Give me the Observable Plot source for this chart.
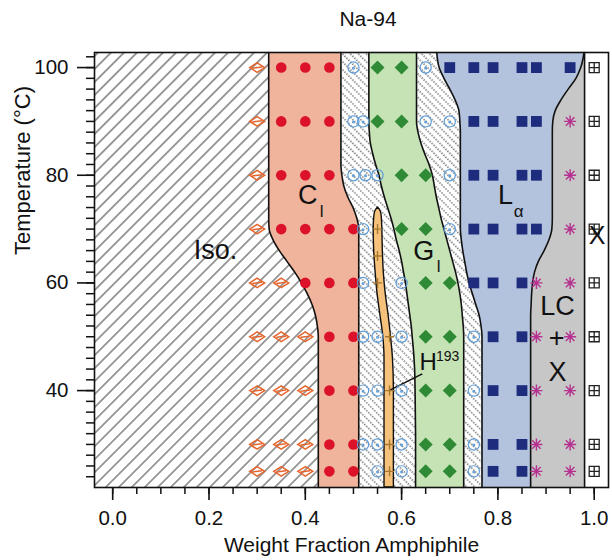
<!DOCTYPE html>
<html><head><meta charset="utf-8">
<script src="https://cdn.jsdelivr.net/npm/d3@7"></script>
<script src="https://cdn.jsdelivr.net/npm/@observablehq/plot@0.6"></script>
<style>
body{margin:0;background:#fff;font-family:"Liberation Sans",Arial,sans-serif;}
#wrap{position:relative;width:612px;height:560px;overflow:hidden;}
#title{position:absolute;left:368px;top:7px;transform:translateX(-50%);font-size:21px;color:#111;white-space:nowrap;}
#chart{position:absolute;left:0;top:40px;}
</style></head><body>
<div id="wrap"><div id="title">Na-94</div><div id="chart"></div></div>
<script>
// ---------- observations (weight fraction, temperature °C) ----------
const isoObs = [[0.30,100],[0.30,90],[0.30,80],[0.30,70],[0.30,60],[0.35,60],[0.30,50],[0.35,50],[0.40,50],[0.30,40],[0.35,40],[0.40,40],[0.30,30],[0.35,30],[0.40,30],[0.30,25],[0.35,25],[0.40,25]];
const cubicObs = [[0.35,100],[0.40,100],[0.45,100],[0.35,90],[0.40,90],[0.45,90],[0.35,80],[0.40,80],[0.45,80],[0.35,70],[0.40,70],[0.45,70],[0.50,70],[0.40,60],[0.45,60],[0.50,60],[0.45,50],[0.50,50],[0.45,40],[0.50,40],[0.45,30],[0.50,30],[0.45,25],[0.50,25]];
const twoPhaseObs = [[0.50,100],[0.65,100],[0.50,90],[0.52,90],[0.65,90],[0.70,90],[0.50,80],[0.525,80],[0.55,80],[0.70,80],[0.52,70],[0.70,70],[0.52,60],[0.60,60],[0.52,50],[0.55,50],[0.60,50],[0.75,50],[0.52,40],[0.55,40],[0.60,40],[0.75,40],[0.52,30],[0.55,30],[0.60,30],[0.75,30],[0.55,25],[0.60,25],[0.75,25]];
const hexObs = [[0.55,70],[0.55,65],[0.55,60],[0.575,50],[0.575,40],[0.575,30],[0.575,25]];
const gyroidObs = [[0.55,100],[0.60,100],[0.55,90],[0.60,90],[0.60,80],[0.65,80],[0.60,70],[0.65,70],[0.65,60],[0.70,60],[0.65,50],[0.70,50],[0.65,40],[0.70,40],[0.65,30],[0.70,30],[0.65,25],[0.70,25]];
const lamellarObs = [[0.70,100],[0.75,100],[0.79,100],[0.85,100],[0.88,100],[0.95,100],[0.75,90],[0.79,90],[0.85,90],[0.88,90],[0.75,80],[0.79,80],[0.85,80],[0.88,80],[0.75,70],[0.79,70],[0.85,70],[0.88,70],[0.75,60],[0.79,60],[0.85,60],[0.79,50],[0.85,50],[0.79,40],[0.85,40],[0.79,30],[0.85,30],[0.79,25],[0.85,25]];
const lcObs = [[0.95,90],[0.95,80],[0.95,70],[0.88,60],[0.95,60],[0.88,50],[0.95,50],[0.88,40],[0.95,40],[0.88,30],[0.95,30],[0.88,25],[0.95,25]];
const crystalObs = [[1.0,100],[1.0,90],[1.0,80],[1.0,70],[1.0,60],[1.0,50],[1.0,40],[1.0,30],[1.0,25]];

// ---------- phase boundaries ----------
const boundaryT      = [22,30,40,44,47,50,52,54,56,58,60,62,64,66,68,70,72,74,76,78,80,82,84,86,88,90,92,94,96,98,100,102.8];
const isoCubicEdge   = [.427,.427,.427,.427,.427,.427,.425,.421,.414,.404,.392,.378,.362,.346,.333,.325,.324,.324,.324,.324,.324,.324,.324,.324,.324,.324,.324,.324,.324,.324,.324,.324];
const cubicEdge      = [.511,.511,.511,.511,.511,.511,.511,.511,.511,.511,.511,.511,.511,.511,.511,.511,.507,.499,.488,.480,.476,.474,.474,.474,.474,.474,.474,.474,.474,.474,.474,.474];
const gyroidLeft     = [.629,.629,.628,.627,.625,.622,.620,.617,.614,.611,.608,.604,.600,.595,.589,.584,.578,.571,.564,.558,.553,.546,.540,.535,.533,.532,.532,.532,.532,.532,.532,.532];
const gyroidRight    = [.729,.729,.729,.729,.729,.729,.728,.726,.724,.721,.717,.712,.706,.700,.694,.688,.682,.677,.672,.668,.664,.657,.648,.640,.634,.631,.631,.631,.631,.631,.631,.631];
const lamellarLeft   = [.767,.767,.767,.767,.767,.767,.765,.761,.754,.747,.740,.735,.731,.727,.724,.722,.722,.722,.722,.722,.722,.722,.722,.722,.722,.721,.719,.711,.700,.688,.678,.673];
const lamellarRight  = [.868,.868,.868,.868,.868,.868,.868,.868,.869,.870,.872,.876,.884,.896,.906,.912,.913,.913,.913,.913,.913,.913,.913,.913,.913,.914,.919,.931,.946,.962,.972,.979];
const crystalEdge    = [0.98];
const hexT     = [22,30,40,46,50,54,58,62,66,70,72,73.2,74];
const hexLeft  = [.5645,.5645,.5645,.5645,.562,.556,.550,.546,.543,.542,.543,.545,.551];
const hexRight = [.584,.584,.584,.582,.578,.573,.567,.563,.561,.560,.559,.557,.551];
const hexLeader = [[0.5735,40.0],[0.643,43.1]];

// ---------- labels and ticks ----------
const bigLabels = [["Iso.",0.2135,66.0],["C",0.405,76.2],["G",0.646,65.8],["L",0.816,76.2],["LC",0.924,55.6],["+",0.922,49.7],["X",0.924,43.4]];
const sideLabel = [["X",1.006,68.8]];
const subLabels = [["l",0.434,73.2],["l",0.677,63.0],["α",0.843,73.3]];
const hLabel = [["H",0.655,45.3]];
const hSup = [["193",0.6955,46.3]];
const xMajorTicks = [0,0.2,0.4,0.6,0.8,1.0];
const xMinorTicks = [0,0.05,0.1,0.15,0.2,0.25,0.3,0.35,0.4,0.45,0.5,0.55,0.6,0.65,0.7,0.75,0.8,0.85,0.9,0.95,1.0];
const yMajorTicks = [40,60,80,100];
const yMinorTicks = [24,26,28,30,32,34,36,38,40,42,44,46,48,50,52,54,56,58,60,62,64,66,68,70,72,74,76,78,80,82,84,86,88,90,92,94,96,98,100,102];

const xDomain = [-0.0378, 1.0297];
const yDomain = [22, 102.8];

const rows = boundaryT.map((t,i) => ({t, left: xDomain[0], b1: isoCubicEdge[i], b2: cubicEdge[i], b3: gyroidLeft[i], b4: gyroidRight[i], b5: lamellarLeft[i], b6: lamellarRight[i], b7: crystalEdge[0]}));
const hexRows = hexT.map((t,i) => ({t, l: hexLeft[i], r: hexRight[i]}));
const pts = a => a.map(([w,t]) => ({w,t}));
const lbl = a => a.map(([s,w,t]) => ({s,w,t}));

// ---------- custom symbols ----------
const symIso = {draw(c){ c.moveTo(-7.5,0); c.lineTo(0,-4.8); c.lineTo(7.5,0); c.lineTo(0,4.8); c.closePath(); c.moveTo(-4.8,0.6); c.lineTo(4.8,-0.6);} };
const symOpen = {draw(c){ c.moveTo(5.6,0); c.arc(0,0,5.6,0,2*Math.PI); c.moveTo(0.9,0.6); c.arc(0,0.6,0.9,0,2*Math.PI);} };
const symStar = {draw(c){ for (let k=0;k<4;k++){ const a=k*Math.PI/4, dx=6*Math.cos(a), dy=6*Math.sin(a); c.moveTo(-dx,-dy); c.lineTo(dx,dy);} } };
const symCryst = {draw(c){ c.moveTo(-5,-5); c.lineTo(5,-5); c.lineTo(5,5); c.lineTo(-5,5); c.closePath(); c.moveTo(0,-5); c.lineTo(0,5); c.moveTo(-5,0); c.lineTo(5,0);} };
const symPlus = {draw(c){ c.moveTo(-4.5,0); c.lineTo(4.5,0); c.moveTo(0,-5); c.lineTo(0,5);} };

const curve = "monotone-y";
const edgeLine = key => Plot.line(rows, {x: key, y: "t", curve, stroke: "#111", strokeWidth: 1.6});

const svg = Plot.plot({
  width: 612, height: 520,
  marginLeft: 94, marginRight: 4, marginTop: 12, marginBottom: 73,
  x: {domain: xDomain},
  y: {domain: yDomain},
  style: {fontFamily: "'Liberation Sans', Arial, sans-serif", fontSize: "20px", color: "#111", background: "white", overflow: "visible"},
  marks: [
    Plot.areaX(rows, {y: "t", x1: "left", x2: "b1", curve, fill: "url(#isoHatch)"}),
    Plot.areaX(rows, {y: "t", x1: "b1", x2: "b2", curve, fill: "#efb49b"}),
    Plot.areaX(rows, {y: "t", x1: "b2", x2: "b3", curve, fill: "url(#twoHatch)"}),
    Plot.areaX(rows, {y: "t", x1: "b3", x2: "b4", curve, fill: "#c6e3b6"}),
    Plot.areaX(rows, {y: "t", x1: "b4", x2: "b5", curve, fill: "url(#twoHatch)"}),
    Plot.areaX(rows, {y: "t", x1: "b5", x2: "b6", curve, fill: "#b3c2dd"}),
    Plot.areaX(rows, {y: "t", x1: "b6", x2: "b7", curve, fill: "#c7c7c7"}),
    edgeLine("b1"), edgeLine("b2"), edgeLine("b3"), edgeLine("b4"), edgeLine("b5"), edgeLine("b6"),
    Plot.ruleX(crystalEdge, {stroke: "#111", strokeWidth: 1.6}),
    Plot.areaX(hexRows, {y: "t", x1: "l", x2: "r", curve, fill: "#f6c17b", stroke: "#111", strokeWidth: 1.4}),
    Plot.link([hexLeader], {x1: d => d[0][0], y1: d => d[0][1], x2: d => d[1][0], y2: d => d[1][1], stroke: "#111", strokeWidth: 1.6}),
    Plot.dot(pts(isoObs), {x: "w", y: "t", symbol: symIso, fill: "none", stroke: "#e5652c", strokeWidth: 1.5}),
    Plot.dot(pts(cubicObs), {x: "w", y: "t", r: 5.3, fill: "#dc1228", stroke: "none"}),
    Plot.dot(pts(twoPhaseObs), {x: "w", y: "t", symbol: symOpen, fill: "none", stroke: "#5d9cd7", strokeWidth: 1.2}),
    Plot.dot(pts(hexObs), {x: "w", y: "t", symbol: symPlus, fill: "none", stroke: "#a8782c", strokeWidth: 1.4}),
    Plot.dot(pts(gyroidObs), {x: "w", y: "t", symbol: "diamond2", r: 6.3, fill: "#2f8a36", stroke: "none"}),
    Plot.dot(pts(lamellarObs), {x: "w", y: "t", symbol: "square", r: 6.1, fill: "#1e2c7e", stroke: "none"}),
    Plot.dot(pts(lcObs), {x: "w", y: "t", symbol: symStar, fill: "none", stroke: "#b5318f", strokeWidth: 1.4}),
    Plot.dot(pts(crystalObs), {x: "w", y: "t", symbol: symCryst, fill: "white", stroke: "#222", strokeWidth: 1.3}),
    Plot.text(lbl(bigLabels), {x: "w", y: "t", text: "s", fontSize: 27, fill: "#111"}),
    Plot.text(lbl(sideLabel), {x: "w", y: "t", text: "s", fontSize: 25, fill: "#111"}),
    Plot.text(lbl(subLabels), {x: "w", y: "t", text: "s", fontSize: 17, fill: "#111"}),
    Plot.text(lbl(hLabel), {x: "w", y: "t", text: "s", fontSize: 24, fill: "#111"}),
    Plot.text(lbl(hSup), {x: "w", y: "t", text: "s", fontSize: 14, fill: "#111"}),
    Plot.frame({stroke: "#111", strokeWidth: 1.6}),
    Plot.axisX(xMinorTicks, {tickSize: 7, strokeWidth: 1.5, tickFormat: () => "", label: null}),
    Plot.axisX(xMajorTicks, {tickSize: 13, strokeWidth: 1.6, tickPadding: 10, tickFormat: d3.format(".1f"), label: null, fontSize: 20.5}),
    Plot.axisY(yMinorTicks, {tickSize: 8, strokeWidth: 1.5, tickFormat: () => "", label: null}),
    Plot.axisY(yMajorTicks, {tickSize: 17, strokeWidth: 1.6, tickPadding: 9, tickFormat: d => String(d), label: null, fontSize: 20.5}),
    Plot.text(["Weight Fraction Amphiphile"], {frameAnchor: "bottom", dy: 58, lineAnchor: "middle", fontSize: 21, fill: "#111"}),
    Plot.text(["Temperature (°C)"], {frameAnchor: "left", dx: -72, dy: -15, rotate: -90, lineAnchor: "middle", fontSize: 22, fill: "#111"})
  ]
});

const defs = d3.select(svg).insert("defs", ":first-child");
function hatch(id, size, angle, color, width, dash) {
  const p = defs.append("pattern").attr("id", id).attr("patternUnits", "userSpaceOnUse")
    .attr("width", size).attr("height", size).attr("patternTransform", `rotate(${angle})`);
  p.append("rect").attr("width", size).attr("height", size).attr("fill", "white");
  const l = p.append("line").attr("x1", size/2).attr("x2", size/2).attr("y1", 0).attr("y2", size)
    .attr("stroke", color).attr("stroke-width", width);
  if (dash) l.attr("stroke-dasharray", dash);
}
hatch("isoHatch", 9.2, 45, "#444", 1.05, null);
hatch("twoHatch", 5.6, -45, "#3a3a3a", 1.1, "1.4 1.4");
document.getElementById("chart").appendChild(svg);
</script>
</body></html>
